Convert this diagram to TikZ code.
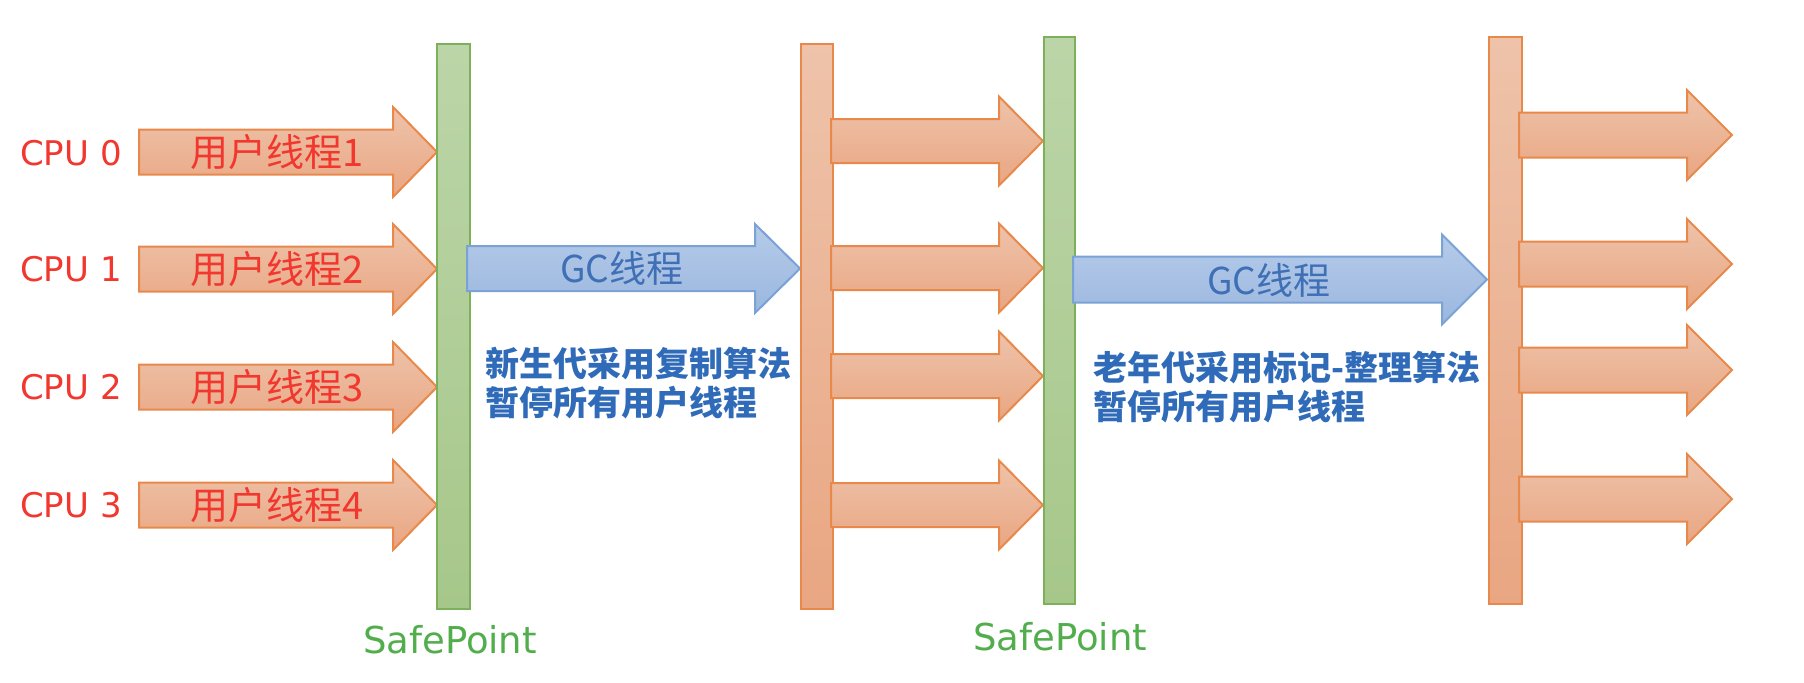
\documentclass[tikz,border=0pt]{standalone}
\usepackage{fontspec}
\setmainfont{DejaVu Sans}
\newfontfamily\cjk{Noto Sans CJK SC}
\usetikzlibrary{shadings}
\definecolor{ortop}{HTML}{EEC3AA}
\definecolor{orbot}{HTML}{E9A682}
\definecolor{orline}{HTML}{E8894B}
\definecolor{grtop}{HTML}{BCD5A8}
\definecolor{grbot}{HTML}{A6C78A}
\definecolor{grline}{HTML}{7DB05A}
\definecolor{bltop}{HTML}{B5CBE9}
\definecolor{blbot}{HTML}{9BB7DF}
\definecolor{blline}{HTML}{7AA2D6}
\definecolor{redtxt}{HTML}{F2372E}
\definecolor{bluetxt}{HTML}{2F6BB8}
\definecolor{gctxt}{HTML}{3F6FB5}
\definecolor{greentxt}{HTML}{52AE4C}
\tikzset{
  pics/harrow/.style n args={4}{code={
    \path[pic actions] (0,-#3) -- (#1,-#3) -- (#1,-#4) -- (#2,0) -- (#1,#4) -- (#1,#3) -- (0,#3) -- cycle;
  }},
  orarrow/.style={draw=orline, line width=1pt, top color=ortop, bottom color=orbot},
  blarrow/.style={draw=blline, line width=1pt, top color=bltop, bottom color=blbot},
  orbar/.style={draw=orline, line width=1pt, top color=ortop, bottom color=orbot},
  grbar/.style={draw=grline, line width=1pt, top color=grtop, bottom color=grbot},
  cpulbl/.style={text=redtxt, font=\fontsize{17pt}{20pt}\selectfont, inner sep=0pt},
  thrlbl/.style={text=redtxt, font=\cjk\fontsize{19pt}{22pt}\selectfont, inner sep=0pt},
  gclbl/.style={text=gctxt, font=\cjk\fontsize{18.5pt}{22pt}\selectfont, inner sep=0pt},
  notelbl/.style={text=bluetxt, font=\cjk\bfseries\fontsize{17pt}{19.5pt}\selectfont, inner sep=0pt, align=left, anchor=west},
  splbl/.style={text=greentxt, font=\fontsize{18.5pt}{22pt}\selectfont, inner sep=0pt},
}
\begin{document}
\begin{tikzpicture}[x=0.5pt,y=-0.5pt]
\useasboundingbox (0,0) rectangle (1804,682);
% left user-thread arrows
\pic[orarrow] at (139,152) {harrow={254}{298}{22.5}{45}};
\pic[orarrow] at (139,269) {harrow={254}{298}{22.5}{45}};
\pic[orarrow] at (139,387) {harrow={254}{298}{22.5}{45}};
\pic[orarrow] at (139,505) {harrow={254}{298}{22.5}{45}};
% safepoint 1
\path[grbar] (437,44) rectangle (470,609);
% GC arrow 1
\pic[blarrow] at (467,268.5) {harrow={288}{333}{22.5}{44.5}};
% orange bar 2
\path[orbar] (801,44) rectangle (833,609);
% middle arrows
\pic[orarrow] at (831,141) {harrow={168}{212}{22}{44.5}};
\pic[orarrow] at (831,268) {harrow={168}{212}{22}{44.5}};
\pic[orarrow] at (831,376) {harrow={168}{212}{22}{44.5}};
\pic[orarrow] at (831,505) {harrow={168}{212}{22}{44.5}};
% safepoint 2
\path[grbar] (1044,37) rectangle (1075,604);
% GC arrow 2
\pic[blarrow] at (1073,279.5) {harrow={369}{414}{23}{45}};
% orange bar 3
\path[orbar] (1489,37) rectangle (1522,604);
% right arrows
\pic[orarrow] at (1519,135) {harrow={168}{213}{22.5}{45}};
\pic[orarrow] at (1519,264) {harrow={168}{213}{22.5}{45}};
\pic[orarrow] at (1519,370) {harrow={168}{213}{22.5}{45}};
\pic[orarrow] at (1519,499) {harrow={168}{213}{22.5}{45}};
% labels
\node[cpulbl] (cpu0) at (71,153) {CPU 0};
\node[cpulbl] (cpu1) at (71,269) {CPU 1};
\node[cpulbl] (cpu2) at (71,387) {CPU 2};
\node[cpulbl] (cpu3) at (71,505) {CPU 3};
\node[thrlbl] (t1) at (277,152) {用户线程1};
\node[thrlbl] (t2) at (277,269) {用户线程2};
\node[thrlbl] (t3) at (277,387) {用户线程3};
\node[thrlbl] (t4) at (277,505) {用户线程4};
\node[gclbl] (gc1) at (622,268) {GC线程};
\node[gclbl] (gc2) at (1269,280) {GC线程};
\node[notelbl] (n1) at (485,383) {新生代采用复制算法\\暂停所有用户线程};
\node[notelbl] (n2) at (1093,387) {老年代采用标记-整理算法\\暂停所有用户线程};
\node[splbl] (sp1) at (450,640) {SafePoint};
\node[splbl] (sp2) at (1060,637) {SafePoint};
\end{tikzpicture}
\end{document}
